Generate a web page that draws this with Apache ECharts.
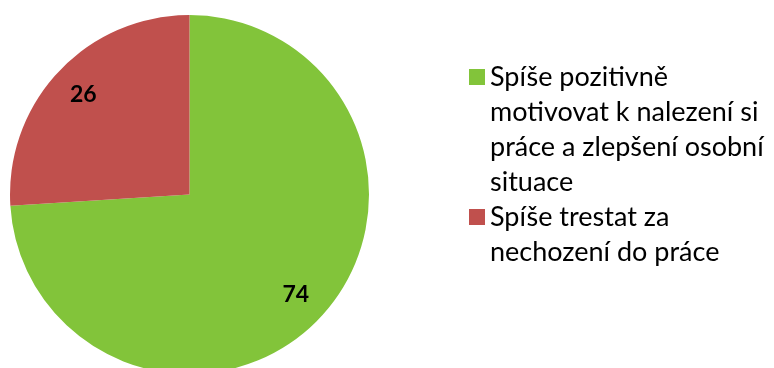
<!DOCTYPE html>
<html><head><meta charset="utf-8">
<script src="https://cdn.jsdelivr.net/npm/echarts@6/dist/echarts.min.js"></script>
<style>html,body{margin:0;padding:0;background:#fff}#c{width:774px;height:368px}</style>
</head><body><div id="c"></div>
<script>
const categories = ['Spíše pozitivně motivovat k nalezení si práce a zlepšení osobní situace', 'Spíše trestat za nechození do práce'];
// legend text as wrapped in the reference
const legendLines = [
  ['Spíše pozitivně', 'motivovat k nalezení si', 'práce a zlepšení osobní', 'situace'],
  ['Spíše trestat za', 'nechození do práce']
];
const values = [74, 26];
const colors = ['#82C43A', '#C0504D'];

const FONT = 'Lato';
const chart = echarts.init(document.getElementById('c'), null, {renderer: 'canvas'});
const pieData = categories.map((n, i) => ({name: n, value: values[i], itemStyle: {color: colors[i]}}));
const lineH = 35;
const boxH = 140;
// legend marker: 16px square aligned with first text line, inside a boxH tall invisible frame
function marker(textLines) {
  const top = (boxH - textLines * lineH) / 2 + (lineH - 16) / 2;
  return 'path://M0,0L0.01,0M0,' + top + 'L16,' + top + 'L16,' + (top + 16) + 'L0,' + (top + 16) + 'ZM0,' + boxH + 'L0.01,' + boxH;
}
chart.setOption({
  animation: false,
  legend: {
    orient: 'vertical',
    left: 469, top: 59.5,
    padding: 0,
    itemGap: -35,
    itemWidth: 16, itemHeight: boxH,
    symbolKeepAspect: false,
    formatter: function (name) { return legendLines[categories.indexOf(name)].join('\n'); },
    textStyle: {fontFamily: FONT, fontSize: 27, color: '#000', lineHeight: lineH},
    data: categories.map((n, i) => ({name: n, icon: marker(legendLines[i].length)}))
  },
  series: [
    {
      type: 'pie', center: [189.5, 194.5], radius: [0, 179.5], startAngle: 90, clockwise: true,
      silent: true, label: {show: false}, labelLine: {show: false},
      data: pieData
    },
    {
      type: 'pie', center: [189.5, 194.5], radius: [106, 179.5], startAngle: 90, clockwise: true,
      silent: true, legendHoverLink: false,
      itemStyle: {color: 'rgba(0,0,0,0)'},
      label: {show: true, position: 'inside', formatter: '{c}', fontFamily: FONT, fontWeight: 'bold', fontSize: 23, color: '#000'},
      labelLine: {show: false},
      data: values.map((v, i) => ({name: categories[i], value: v, itemStyle: {color: 'rgba(0,0,0,0)'}}))
    }
  ]
});
</script></body></html>
